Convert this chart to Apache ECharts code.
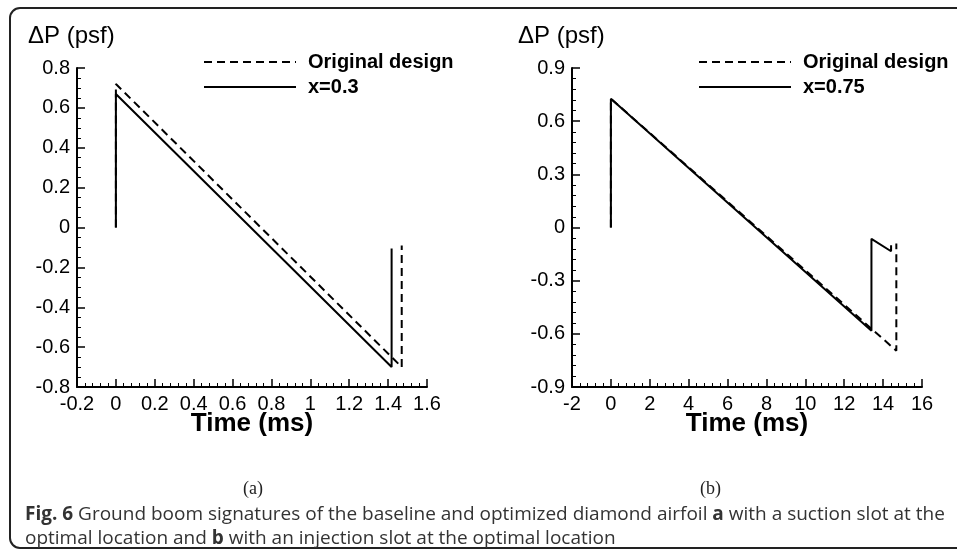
<!DOCTYPE html>
<html>
<head>
<meta charset="utf-8">
<script src="https://cdn.jsdelivr.net/npm/echarts@6/dist/echarts.min.js"></script>
<style>
  html, body { margin: 0; padding: 0; background: #fff; }
  #chart { width: 957px; height: 549px; }
</style>
</head>
<body>
<div id="chart"></div>
<script>
// Axis tick values for both panels
const xTicksA = [-0.2, 0, 0.2, 0.4, 0.6, 0.8, 1, 1.2, 1.4, 1.6];
const yTicksA = [-0.8, -0.6, -0.4, -0.2, 0, 0.2, 0.4, 0.6, 0.8];
const xTicksB = [-2, 0, 2, 4, 6, 8, 10, 12, 14, 16];
const yTicksB = [-0.9, -0.6, -0.3, 0, 0.3, 0.6, 0.9];

// Panel (a): suction slot
const seriesNamesA = ['Original design', 'x=0.3'];
const timeOrigA = [0, 0, 1.47, 1.47];
const dpOrigA   = [0, 0.72, -0.70, -0.09];
const timeSlotA = [0, 0, 1.418, 1.418];
const dpSlotA   = [0, 0.67, -0.70, -0.105];

// Panel (b): injection slot
const seriesNamesB = ['Original design', 'x=0.75'];
const timeOrigB = [0, 0, 14.68, 14.68];
const dpOrigB   = [0, 0.727, -0.695, -0.09];
const timeSlotB = [0, 0, 13.4, 13.4, 14.41, 14.41];
const dpSlotB   = [0, 0.727, -0.582, -0.064, -0.134, -0.10];

const zip = (t, p) => t.map((v, i) => [v, p[i]]);
const step = ticks => Math.round((ticks[1] - ticks[0]) * 1e6) / 1e6;

const FONT = 'Liberation Sans';

function valueAxis(ticks, minorSplit, gridIndex, extra) {
  return Object.assign({
    type: 'value',
    gridIndex: gridIndex,
    min: ticks[0],
    max: ticks[ticks.length - 1],
    interval: step(ticks),
    axisLine: { show: true, onZero: false, lineStyle: { color: '#000', width: 2 } },
    axisTick: { show: true, inside: true, length: 8, lineStyle: { color: '#000', width: 1.5 } },
    minorTick: { show: true, splitNumber: minorSplit, length: 4, lineStyle: { color: '#000', width: 1 } },
    splitLine: { show: false },
    minorSplitLine: { show: false },
    axisLabel: { color: '#000', fontSize: 20, fontFamily: FONT, margin: 7 }
  }, extra || {});
}

const xName = {
  name: 'Time (ms)',
  nameLocation: 'middle',
  nameGap: 24,
  nameMoveOverlap: false,
  nameTextStyle: { color: '#000', fontSize: 26, fontWeight: 'bold', fontFamily: FONT }
};

const dashed = { color: '#000', width: 2, type: [8, 5] };
const solid = { color: '#000', width: 2, type: 'solid' };

function lineSeries(name, data, idx, style) {
  return {
    type: 'line', name: name, data: data,
    xAxisIndex: idx, yAxisIndex: idx,
    symbol: 'none', lineStyle: style, itemStyle: { color: '#000' },
    animation: false, silent: true
  };
}

function legendFor(names, left) {
  return {
    data: names,
    left: left, top: 47,
    orient: 'vertical',
    itemWidth: 92, itemHeight: 14, itemGap: 5,
    selectedMode: false,
    itemStyle: { opacity: 0 },
    textStyle: { color: '#000', fontSize: 20, fontWeight: 'bold', fontFamily: FONT, padding: [0, 0, 0, 7] }
  };
}

const captionRich = { b: { fontWeight: 'bold', fontSize: 19, fontFamily: 'Open Sans', fill: '#333' } };

const chart = echarts.init(document.getElementById('chart'), null, { renderer: 'canvas' });

chart.setOption({
  backgroundColor: '#fff',
  animation: false,
  grid: [
    { left: 77, top: 68, width: 350, height: 319 },
    { left: 572, top: 68, width: 350, height: 319 }
  ],
  xAxis: [
    valueAxis(xTicksA, 5, 0, xName),
    valueAxis(xTicksB, 5, 1, xName)
  ],
  yAxis: [
    valueAxis(yTicksA, 4, 0),
    valueAxis(yTicksB, 5, 1)
  ],
  legend: [
    legendFor(seriesNamesA.map(n => ({ name: n })), 198),
    legendFor(seriesNamesB.map(n => ({ name: n })), 693)
  ],
  series: [
    lineSeries(seriesNamesA[0], zip(timeOrigA, dpOrigA), 0, dashed),
    lineSeries(seriesNamesA[1], zip(timeSlotA, dpSlotA), 0, solid),
    lineSeries(seriesNamesB[0], zip(timeOrigB, dpOrigB), 1, dashed),
    lineSeries(seriesNamesB[1], zip(timeSlotB, dpSlotB), 1, solid)
  ],
  graphic: [
    {
      type: 'rect', silent: true,
      shape: { x: 10, y: 8, width: 1000, height: 540, r: 10 },
      style: { fill: 'none', stroke: '#222', lineWidth: 2 }
    },
    {
      type: 'text', left: 28, top: 24, silent: true,
      style: { text: 'ΔP (psf)', fill: '#000', font: '24px "Liberation Sans"' }
    },
    {
      type: 'text', left: 518, top: 24, silent: true,
      style: { text: 'ΔP (psf)', fill: '#000', font: '24px "Liberation Sans"' }
    },
    {
      type: 'text', left: 243, top: 480, silent: true,
      style: { text: '(a)', fill: '#222', font: '18px "Liberation Serif"' }
    },
    {
      type: 'text', left: 700, top: 480, silent: true,
      style: { text: '(b)', fill: '#222', font: '18px "Liberation Serif"' }
    },
    {
      type: 'text', left: 25, top: 505, silent: true,
      style: {
        text: '{b|Fig. 6} Ground boom signatures of the baseline and optimized diamond airfoil {b|a} with a suction slot at the',
        fill: '#333', font: '19px "Open Sans"', rich: captionRich
      }
    },
    {
      type: 'text', left: 25, top: 529, silent: true,
      style: {
        text: 'optimal location and {b|b} with an injection slot at the optimal location',
        fill: '#333', font: '19px "Open Sans"', rich: captionRich
      }
    }
  ]
});
</script>
</body>
</html>
